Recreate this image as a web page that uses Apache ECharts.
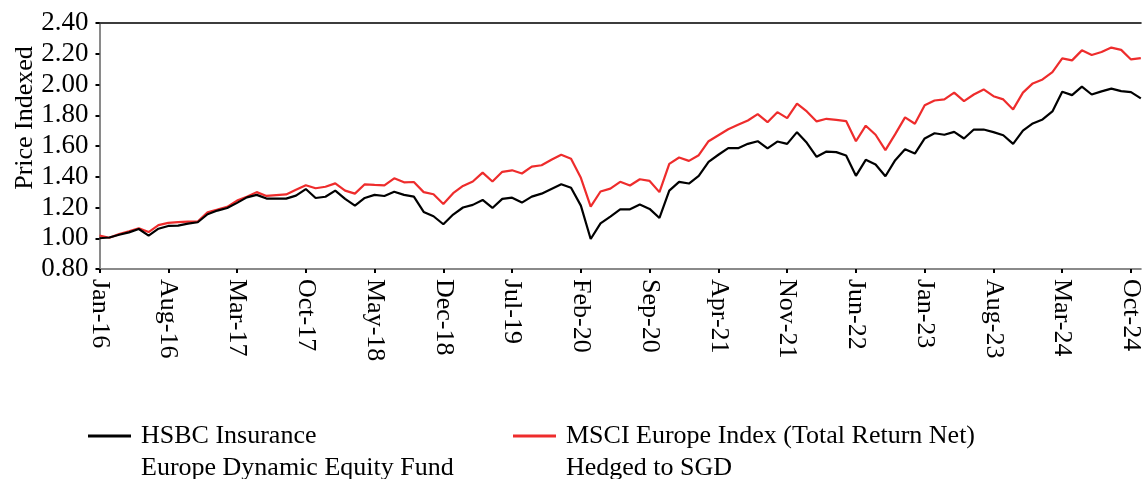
<!DOCTYPE html>
<html>
<head>
<meta charset="utf-8">
<script src="https://cdn.jsdelivr.net/npm/echarts@6/dist/echarts.min.js"></script>
<style>
  html, body { margin: 0; padding: 0; background: #fff; }
  #chart { width: 1144px; height: 479px; }
</style>
</head>
<body>
<div id="chart"></div>
<script>
// Monthly price index, rebased to 1.00 at Jan-16
var startYear = 2016;
var monthNames = ['Jan', 'Feb', 'Mar', 'Apr', 'May', 'Jun', 'Jul', 'Aug', 'Sep', 'Oct', 'Nov', 'Dec'];
var monthCount = 107; // Jan-16 .. Nov-24

var fundName = 'HSBC Insurance\nEurope Dynamic Equity Fund';
var indexName = 'MSCI Europe Index (Total Return Net)\nHedged to SGD';

var fundValues = [
  1.000, 1.005, 1.023, 1.038, 1.060, 1.017, 1.062, 1.080, 1.082, 1.095, 1.104, 1.156,
  1.180, 1.197, 1.230, 1.266, 1.282, 1.258, 1.258, 1.258, 1.277, 1.320, 1.262, 1.270,
  1.310, 1.256, 1.212, 1.262, 1.282, 1.275, 1.302, 1.282, 1.271, 1.171, 1.143, 1.091,
  1.154, 1.200, 1.217, 1.249, 1.197, 1.256, 1.264, 1.232, 1.271, 1.290, 1.321, 1.351,
  1.328, 1.212, 0.995, 1.097, 1.141, 1.188, 1.188, 1.219, 1.191, 1.132, 1.310, 1.367,
  1.356, 1.406, 1.497, 1.543, 1.586, 1.586, 1.614, 1.631, 1.584, 1.629, 1.614, 1.690,
  1.621, 1.530, 1.564, 1.560, 1.538, 1.406, 1.510, 1.480, 1.403, 1.508, 1.579, 1.551,
  1.649, 1.683, 1.673, 1.692, 1.649, 1.707, 1.707, 1.690, 1.670, 1.614, 1.700, 1.747,
  1.773, 1.825, 1.953, 1.931, 1.986, 1.935, 1.955, 1.973, 1.957, 1.950, 1.910
];

var indexValues = [
  1.018, 1.003, 1.027, 1.045, 1.065, 1.040, 1.085, 1.100, 1.105, 1.108, 1.108, 1.169,
  1.186, 1.204, 1.245, 1.270, 1.300, 1.275, 1.280, 1.285, 1.315, 1.345, 1.325, 1.335,
  1.357, 1.310, 1.290, 1.351, 1.347, 1.344, 1.390, 1.364, 1.366, 1.300, 1.286, 1.223,
  1.293, 1.340, 1.369, 1.427, 1.369, 1.432, 1.442, 1.421, 1.466, 1.475, 1.510, 1.543,
  1.517, 1.393, 1.206, 1.304, 1.323, 1.367, 1.343, 1.384, 1.373, 1.300, 1.484, 1.525,
  1.503, 1.540, 1.631, 1.670, 1.709, 1.738, 1.766, 1.807, 1.755, 1.820, 1.781, 1.875,
  1.825, 1.760, 1.777, 1.770, 1.762, 1.631, 1.732, 1.673, 1.573, 1.677, 1.786, 1.745,
  1.865, 1.896, 1.903, 1.947, 1.892, 1.935, 1.968, 1.924, 1.903, 1.838, 1.947, 2.007,
  2.033, 2.081, 2.170, 2.157, 2.222, 2.192, 2.211, 2.240, 2.225, 2.163, 2.172
];

// y axis range and step
var yMin = 0.8, yMax = 2.4, yStep = 0.2;

// "Mon-YY" labels for each month
var months = [];
for (var i = 0; i < monthCount; i++) {
  var y = startYear + Math.floor(i / 12);
  months.push(monthNames[i % 12] + '-' + String(y).slice(2));
}

var FONT = 'Liberation Serif';

var chart = echarts.init(document.getElementById('chart'), null, { renderer: 'canvas' });

var legendText = {
  fontFamily: FONT,
  fontSize: 26,
  color: '#000',
  lineHeight: 32,
  padding: [0, 0, 0, 5]
};

// a leading blank line keeps the legend swatch level with the first text line
function legendLabel(name) { return '\n' + name; }

chart.setOption({
  animation: false,
  backgroundColor: '#fff',
  grid: { left: 99.5, right: 2.5, top: 23, bottom: 210, containLabel: false },
  graphic: [{
    type: 'text',
    x: 25,
    y: 118,
    rotation: Math.PI / 2,
    style: {
      text: 'Price Indexed',
      fontFamily: FONT,
      fontSize: 26,
      fill: '#000',
      align: 'center',
      verticalAlign: 'middle'
    }
  }],
  legend: [{
    data: [fundName],
    formatter: legendLabel,
    left: 88,
    top: 388,
    padding: 0,
    icon: 'rect',
    itemWidth: 43,
    itemHeight: 3,
    textStyle: legendText
  }, {
    data: [indexName],
    formatter: legendLabel,
    left: 513,
    top: 388,
    padding: 0,
    icon: 'rect',
    itemWidth: 43,
    itemHeight: 3,
    textStyle: legendText
  }],
  xAxis: [{
    type: 'category',
    data: months,
    boundaryGap: false,
    axisLine: { lineStyle: { color: '#8a8a8a', width: 2 } },
    axisTick: { show: true, interval: 6, length: 4, lineStyle: { color: '#000', width: 2 } },
    axisLabel: {
      interval: 6,
      rotate: -90,
      margin: 10,
      fontFamily: FONT,
      fontSize: 26,
      color: '#000'
    },
    splitLine: { show: false }
  }, {
    type: 'category',
    data: months,
    boundaryGap: false,
    position: 'top',
    axisLine: { lineStyle: { color: '#3c3c3c', width: 2 } },
    axisTick: { show: false },
    axisLabel: { show: false },
    splitLine: { show: false }
  }],
  yAxis: {
    type: 'value',
    min: yMin,
    max: yMax,
    interval: yStep,
    axisLine: { show: true, lineStyle: { color: '#8a8a8a', width: 2 } },
    axisTick: { show: true, length: 4, lineStyle: { color: '#000', width: 2 } },
    axisLabel: {
      margin: 11,
      fontFamily: FONT,
      fontSize: 27,
      color: '#000',
      formatter: function (v) { return v.toFixed(2); }
    },
    splitLine: { show: false }
  },
  series: [{
    name: fundName,
    type: 'line',
    data: fundValues,
    showSymbol: false,
    symbol: 'none',
    color: '#000000',
    lineStyle: { color: '#000000', width: 2.2 },
    z: 3
  }, {
    name: indexName,
    type: 'line',
    data: indexValues,
    showSymbol: false,
    symbol: 'none',
    color: '#ee2c2c',
    lineStyle: { color: '#ee2c2c', width: 2.2 },
    z: 2
  }]
});
</script>
</body>
</html>
